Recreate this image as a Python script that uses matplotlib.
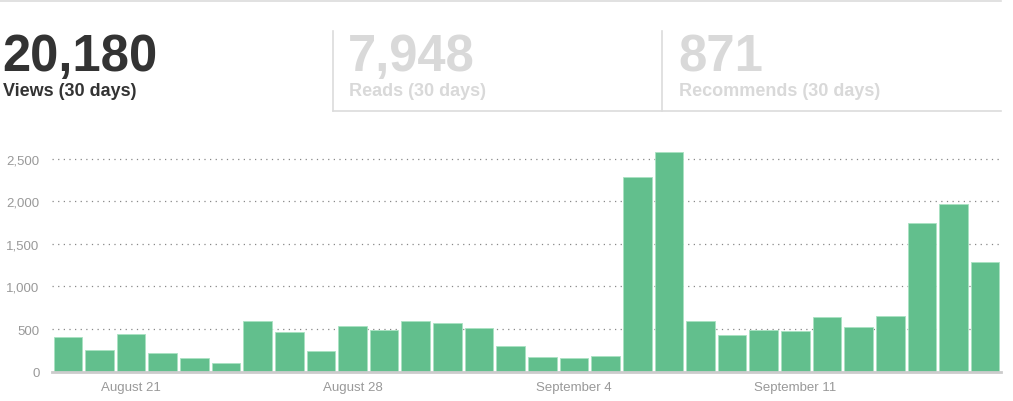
import numpy as np
import matplotlib.pyplot as plt
from matplotlib.lines import Line2D
from matplotlib.ticker import FuncFormatter

#   Daily views, Aug 19 .. Sep 17
views = [411, 258, 442, 223, 164, 102, 591, 466, 243, 536,
         489, 595, 571, 513, 301, 172, 161, 188, 2282, 2579,
         591, 427, 493, 478, 646, 521, 650, 1745, 1965, 1291]
tick_days = [2, 9, 16, 23]
tick_labels = ['August 21', 'August 28', 'September 4', 'September 11']
y_ticks = [0, 500, 1000, 1500, 2000, 2500]

stat_values = ['20,180', '7,948', '871']
stat_labels = ['Views (30 days)', 'Reads (30 days)', 'Recommends (30 days)']

plt.rcParams['font.family'] = ['Liberation Sans', 'DejaVu Sans']
W, H = 1013, 402
fig = plt.figure(figsize=(W / 100, H / 100), dpi=100)

def fx(px):
    return px / W

def fy(py):
    return 1 - py / H

#   Header panels
line_col = '#dcdcdc'
fig.add_artist(Line2D([fx(0), fx(1001)], [fy(1.5), fy(1.5)], color=line_col, lw=1.2))
for xv in (333, 662):
    fig.add_artist(Line2D([fx(xv), fx(xv)], [fy(32), fy(112)], color=line_col, lw=1.2))
fig.add_artist(Line2D([fx(333), fx(1001)], [fy(112), fy(112)], color=line_col, lw=1.2))

text_x = [2, 348, 678]
colors = ['#333333', '#d9d9d9', '#d9d9d9']
for x, v, lab, c in zip(text_x, stat_values, stat_labels, colors):
    fig.text(fx(x), fy(71), v, fontsize=36.5, fontweight='bold', color=c, va='baseline', ha='left')
    fig.text(fx(x + 1), fy(96), lab, fontsize=13, fontweight='bold', color=c, va='baseline', ha='left')

#   Bar chart
ax = fig.add_axes([fx(52), fy(372.7), fx(1001) - fx(52), (372.7 - 140) / H])
x = np.arange(len(views))
ax.bar(x, views, width=0.905, color='#62bf8d', edgecolor='#a9e2c2', linewidth=0.6, zorder=2)
ax.set_xlim(-0.5, len(views) - 0.5)
ax.set_ylim(0, 2730)

ax.set_yticks(y_ticks)
ax.yaxis.set_major_formatter(FuncFormatter(lambda v, p: f'{int(v):,}'))
ax.grid(axis='y', linestyle=(0, (1, 3.5)), color='#888888', linewidth=0.9, zorder=1)
ax.set_xticks(tick_days)
ax.set_xticklabels(tick_labels)
ax.tick_params(axis='both', length=0, labelsize=9.5, colors='#999999')
ax.tick_params(axis='y', pad=9)
ax.tick_params(axis='x', pad=7)

for s in ('top', 'right', 'left'):
    ax.spines[s].set_visible(False)
ax.spines['bottom'].set_color('#cccccc')
ax.spines['bottom'].set_linewidth(2)
ax.spines['bottom'].set_zorder(3)

plt.savefig('out.png', dpi=100)
